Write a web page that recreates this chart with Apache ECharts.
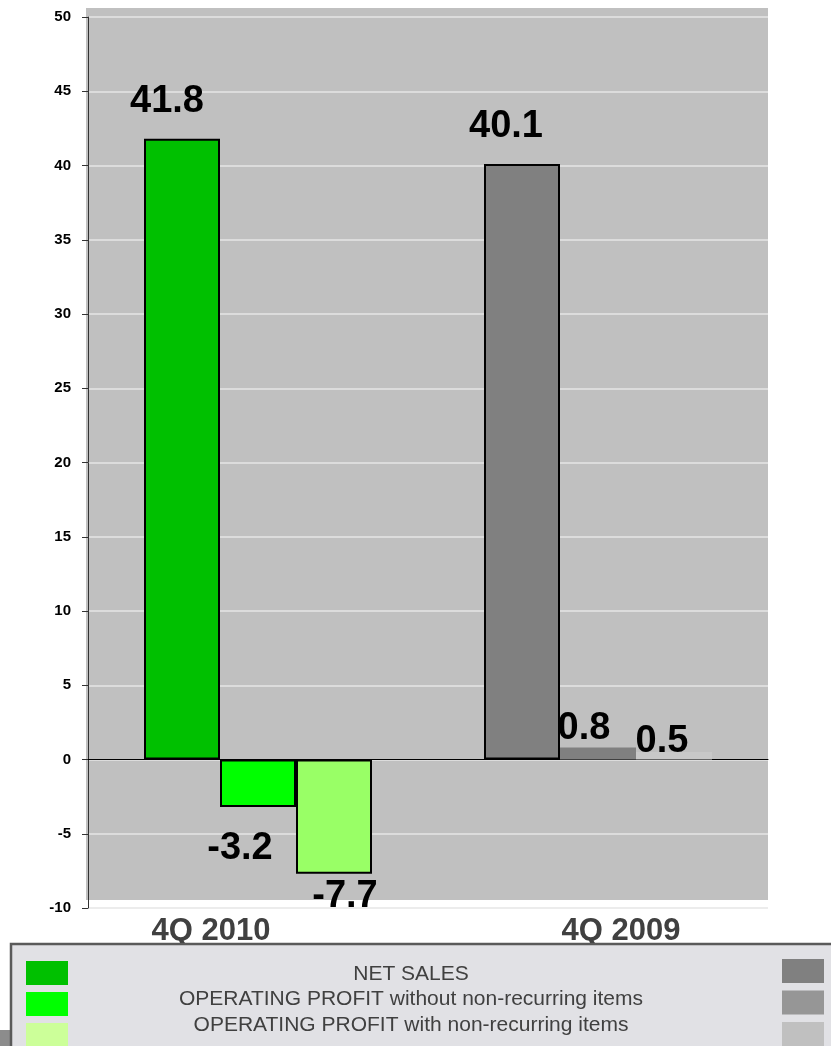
<!DOCTYPE html>
<html>
<head>
<meta charset="utf-8">
<script src="https://cdn.jsdelivr.net/npm/echarts@6/dist/echarts.min.js"></script>
<style>
  html, body { margin: 0; padding: 0; background: #ffffff; }
  #chart { width: 831px; height: 1046px; }
</style>
</head>
<body>
<div id="chart"></div>
<script>
// Quarter categories and the three measures per quarter
const categories = ['4Q 2010', '4Q 2009'];
const netSales = [41.8, 40.1];
const opProfitNoNonRecurring = [-3.2, 0.8];
const opProfitWithNonRecurring = [-7.7, 0.5];

const seriesNames = [
  'NET SALES',
  'OPERATING PROFIT without non-recurring items',
  'OPERATING PROFIT with non-recurring items'
];

// Value-axis ticks
const yMin = -10, yMax = 50, yStep = 5;

// Per-quarter palettes: greens for 2010, greys for 2009
const barColors = [
  ['#00c000', '#808080'],
  ['#00ff00', '#808080'],
  ['#99ff66', '#c8c8c8']
];
const legendColorsLeft = ['#00c000', '#00ff00', '#ccff99'];
const legendColorsRight = ['#808080', '#969696', '#c0c0c0'];

const FONT = 'Liberation Sans, Arial, sans-serif';

// Label placement per bar: [position, distance, dx, dy]
const labelPlace = [
  [['top', 18, -15, 0], ['top', 18, -16, 0]],
  [['bottom', 22, -18, 0], ['top', 0, -14, 0]],
  [['bottom', 4, 11, 0], ['top', 0, -12, 8]]
];
const borderOn = [[true, true], [true, false], [true, false]];

function buildSeries(values, idx) {
  return {
    name: seriesNames[idx],
    type: 'bar',
    barWidth: 76,
    barGap: '0%',
    xAxisIndex: 0,
    data: values.map((v, ci) => {
      const p = labelPlace[idx][ci];
      return {
        value: v,
        itemStyle: {
          color: barColors[idx][ci],
          borderColor: '#000',
          borderWidth: borderOn[idx][ci] ? 2 : 0
        },
        label: {
          show: true,
          position: p[0],
          distance: p[1],
          offset: [p[2], p[3]],
          formatter: String(v),
          fontFamily: FONT,
          fontWeight: 'bold',
          fontSize: 38,
          color: '#000'
        }
      };
    })
  };
}

const catStyle = { '4Q 2010': 'left', '4Q 2009': 'right' };

const legendGraphics = [];
legendGraphics.push({
  type: 'rect', z: 10,
  shape: { x: -2, y: 1030, width: 13, height: 20 },
  style: { fill: '#8c8c8c' }
});
legendGraphics.push({
  type: 'rect', z: 11,
  shape: { x: 11, y: 944, width: 830, height: 110 },
  style: { fill: '#e1e1e5', stroke: '#5a5a5a', lineWidth: 2.5 }
});
seriesNames.forEach((name, i) => {
  legendGraphics.push({
    type: 'rect', z: 12,
    shape: { x: 26, y: 961 + i * 31, width: 42, height: 24 },
    style: { fill: legendColorsLeft[i] }
  });
  legendGraphics.push({
    type: 'rect', z: 12,
    shape: { x: 782, y: 959 + i * 31.5, width: 42, height: 24 },
    style: { fill: legendColorsRight[i] }
  });
  legendGraphics.push({
    type: 'text', z: 12,
    x: 411, y: 974 + i * 25.5,
    style: {
      text: name,
      align: 'center',
      verticalAlign: 'middle',
      fontFamily: FONT,
      fontSize: 21,
      fill: '#404040'
    }
  });
});

const option = {
  animation: false,
  backgroundColor: '#ffffff',
  grid: { left: 88, right: 63, top: 17, bottom: 138, containLabel: false },
  graphic: [
    {
      type: 'rect', z: -10,
      shape: { x: 86, y: 8, width: 682, height: 892 },
      style: { fill: '#c0c0c0' }
    }
  ].concat(legendGraphics),
  xAxis: [
    {
      type: 'category',
      data: categories,
      axisLine: { show: true, onZero: true, lineStyle: { color: '#000', width: 1 } },
      axisTick: { show: false },
      axisLabel: { show: false },
      splitLine: { show: false }
    },
    {
      type: 'category',
      data: categories,
      position: 'bottom',
      axisLine: { show: false, onZero: false },
      axisTick: { show: false },
      splitLine: { show: false },
      axisLabel: {
        margin: 8,
        formatter: v => '{' + catStyle[v] + '|' + v + '}',
        rich: {
          left: {
            fontFamily: FONT, fontWeight: 'bold', fontSize: 31, color: '#404040',
            padding: [0, 94, 0, 0]
          },
          right: {
            fontFamily: FONT, fontWeight: 'bold', fontSize: 31, color: '#404040',
            padding: [0, 0, 0, 46]
          }
        }
      }
    }
  ],
  yAxis: {
    type: 'value',
    min: yMin,
    max: yMax,
    interval: yStep,
    axisLine: { show: true, lineStyle: { color: '#333', width: 1 } },
    axisTick: { show: true, length: 6, lineStyle: { color: '#333' } },
    axisLabel: {
      margin: 17,
      fontFamily: FONT,
      fontWeight: 'bold',
      fontSize: 15,
      color: '#000'
    },
    splitLine: { show: true, lineStyle: { color: '#e6e6e6', width: 1.5 } }
  },
  series: [
    buildSeries(netSales, 0),
    buildSeries(opProfitNoNonRecurring, 1),
    buildSeries(opProfitWithNonRecurring, 2)
  ]
};

const chart = echarts.init(document.getElementById('chart'), null, { renderer: 'canvas' });
chart.setOption(option);
</script>
</body>
</html>
